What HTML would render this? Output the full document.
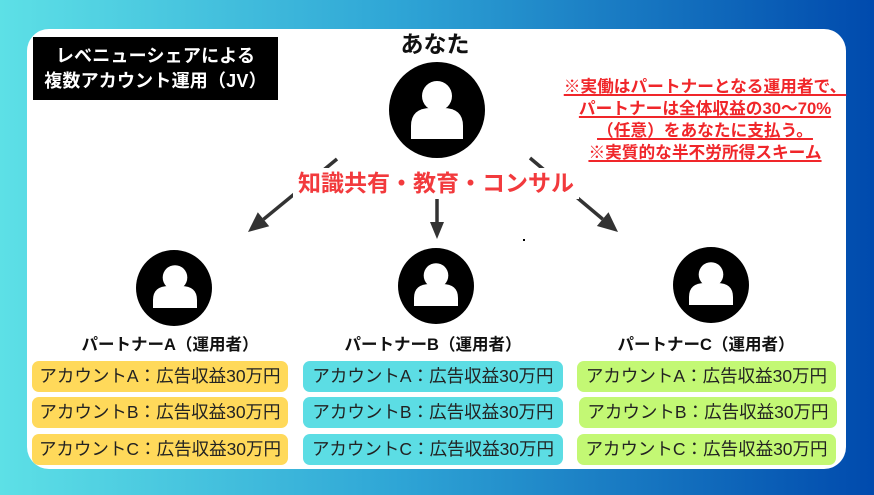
<!DOCTYPE html>
<html><head><meta charset="utf-8"><style>
html,body{margin:0;padding:0;}
body{width:874px;height:495px;overflow:hidden;position:relative;background:linear-gradient(90deg,#5de0e6 0%,#2fa6d6 45%,#004aad 100%);font-family:"Liberation Sans","Noto Sans CJK JP",sans-serif;}
.panel{position:absolute;left:27px;top:29px;width:819px;height:440px;background:#fff;border-radius:22px;}
.title{position:absolute;left:33px;top:37px;width:245px;height:63px;background:#000;color:#fff;font-weight:bold;font-size:18px;line-height:25px;text-align:center;box-sizing:border-box;padding-top:7px;letter-spacing:0.2px;}
.you{position:absolute;left:335px;top:29px;width:200px;text-align:center;font-weight:bold;font-size:23px;line-height:30px;color:#111;}
.note{position:absolute;left:555px;top:76px;width:300px;text-align:center;color:#f0262a;font-weight:bold;font-size:16.7px;line-height:22px;white-space:nowrap;}
.note span{text-decoration:underline;text-decoration-thickness:1.5px;text-underline-offset:2px;}
.mid{position:absolute;left:293px;top:168px;width:286px;height:31px;background:#fff;color:#f23a3d;font-weight:bold;font-size:23px;line-height:31px;text-align:center;white-space:nowrap;}
.plabel{position:absolute;width:240px;text-align:center;font-weight:bold;font-size:16.5px;line-height:20px;color:#111;top:335px;white-space:nowrap;}
.box{position:absolute;height:31px;border-radius:7px;font-size:17.5px;line-height:31px;text-align:center;color:#222;white-space:nowrap;}
.y{background:#ffd95a;}.c{background:#5cdde4;}.g{background:#c3f874;}
svg{position:absolute;left:0;top:0;}
</style></head><body>
<div class="panel"></div>
<svg width="874" height="495" viewBox="0 0 874 495">
  <g fill="#000">
    <circle cx="437" cy="110" r="48"/>
    <circle cx="174" cy="288" r="38"/>
    <circle cx="436" cy="286" r="38"/>
    <circle cx="711" cy="285" r="38"/>
  </g>
  <g fill="#fff">
    <circle cx="437" cy="96" r="15"/>
    <path d="M411,139 L411,126 Q411,108 431,108 L443,108 Q463,108 463,126 L463,139 Z"/>
    <circle cx="175" cy="277.5" r="12.3"/>
    <path d="M153,308 L153,300 Q153,286 169,286 L181,286 Q197,286 197,300 L197,308 Z"/>
    <circle cx="436" cy="275.5" r="12.3"/>
    <path d="M414,306 L414,298 Q414,284 430,284 L442,284 Q458,284 458,298 L458,306 Z"/>
    <circle cx="711" cy="274.5" r="12.3"/>
    <path d="M689,305 L689,297 Q689,283 705,283 L717,283 Q733,283 733,297 L733,305 Z"/>
  </g>
  <g stroke="#333" stroke-width="3.5" fill="none" stroke-linecap="butt">
    <line x1="337" y1="159" x2="263.5" y2="219.3"/>
    <line x1="530" y1="158" x2="602.7" y2="219.1"/>
    <line x1="437" y1="168" x2="437" y2="224"/>
  </g>
  <g fill="#333">
    <polygon points="248,232 269.2,226.3 257.8,212.3"/>
    <polygon points="618,232 596.9,226 608.5,212.2"/>
    <polygon points="437,239 430,222 444,222"/>
  </g>
  <rect x="523" y="239" width="2" height="2" fill="#000"/>
</svg>
<div class="mid">知識共有・教育・コンサル</div>
<div class="title">レベニューシェアによる<br>複数アカウント運用（JV）</div>
<div class="you">あなた</div>
<div class="note"><span>※実働はパートナーとなる運用者で、</span><br><span>パートナーは全体収益の30～70%</span><br><span>（任意）をあなたに支払う。</span><br><span>※実質的な半不労所得スキーム</span></div>

<div class="plabel" style="left:50px;">パートナーA（運用者）</div>
<div class="plabel" style="left:313px;">パートナーB（運用者）</div>
<div class="plabel" style="left:586px;">パートナーC（運用者）</div>

<div class="box y" style="left:32px;top:361px;width:256px;">アカウントA：広告収益30万円</div>
<div class="box y" style="left:32px;top:397px;width:256px;">アカウントB：広告収益30万円</div>
<div class="box y" style="left:32px;top:434px;width:256px;">アカウントC：広告収益30万円</div>

<div class="box c" style="left:303px;top:361px;width:260px;">アカウントA：広告収益30万円</div>
<div class="box c" style="left:303px;top:397px;width:260px;">アカウントB：広告収益30万円</div>
<div class="box c" style="left:303px;top:434px;width:260px;">アカウントC：広告収益30万円</div>

<div class="box g" style="left:577px;top:361px;width:259px;">アカウントA：広告収益30万円</div>
<div class="box g" style="left:579px;top:397px;width:258px;">アカウントB：広告収益30万円</div>
<div class="box g" style="left:577px;top:434px;width:259px;">アカウントC：広告収益30万円</div>
</body></html>
